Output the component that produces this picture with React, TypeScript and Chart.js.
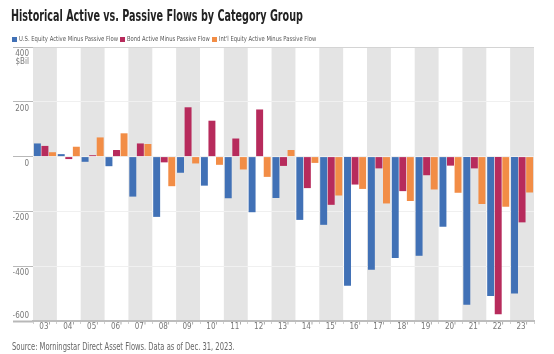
import React, { useEffect, useLayoutEffect, useRef, useState } from 'react';
import { Chart, registerables } from 'chart.js';

Chart.register(...registerables);

const titleText = 'Historical Active vs. Passive Flows by Category Group';
const sourceText = 'Source: Morningstar Direct Asset Flows. Data as of Dec. 31, 2023.';
const unitLabel = '$Bil';

const years = ["03'", "04'", "05'", "06'", "07'", "08'", "09'", "10'", "11'", "12'", "13'", "14'", "15'", "16'", "17'", "18'", "19'", "20'", "21'", "22'", "23'"];
const usEquity = [48, 9, -19, -35, -146, -220, -59, -106, -152, -203, -151, -231, -249, -471, -413, -370, -362, -256, -541, -509, -500];
const bond = [39, -9, 5, 24, 48, -21, 180, 131, 66, 172, -34, -115, -176, -102, -43, -126, -68, -33, -43, -575, -240];
const intl = [16, 36, 70, 85, 46, -108, -25, -30, -47, -74, 24, -23, -142, -118, -171, -162, -120, -132, -173, -183, -131];

const seriesNames = ['U.S. Equity Active Minus Passive Flow', 'Bond Active Minus Passive Flow', "Int'l Equity Active Minus Passive Flow"];
const seriesColors = ['#4171b6', '#b72b5c', '#f28d46'];
const yMin = -600;
const yMax = 400;
const yStep = 200;

const NARROW = '"Liberation Sans Narrow", "DejaVu Sans Condensed", Roboto, sans-serif';

function FitText({ text, width, style }: { text: string; width: number; style?: React.CSSProperties }) {
  const ref = useRef<HTMLSpanElement>(null);
  const [scale, setScale] = useState(1);
  useLayoutEffect(() => {
    const measure = () => {
      if (ref.current) {
        const w = ref.current.offsetWidth;
        if (w > 0) setScale(width / w);
      }
    };
    measure();
    if ((document as any).fonts && (document as any).fonts.ready) {
      (document as any).fonts.ready.then(measure);
    }
  }, [text, width]);
  return (
    <span style={{ display: 'inline-block', width, whiteSpace: 'nowrap', verticalAlign: 'top', ...style }}>
      <span ref={ref} style={{ display: 'inline-block', transform: `scaleX(${scale})`, transformOrigin: '0 0' }}>{text}</span>
    </span>
  );
}

const bandPlugin = {
  id: 'bands',
  beforeDraw(chart: any) {
    const { ctx, chartArea, scales } = chart;
    const x = scales.x;
    const w = (chartArea.right - chartArea.left) / years.length;
    ctx.save();
    ctx.fillStyle = '#e4e4e4';
    years.forEach((_, i) => {
      if (i % 2 === 0) {
        const c = x.getPixelForValue(i);
        ctx.fillRect(c - w / 2, chartArea.top, w, chartArea.bottom - chartArea.top);
      }
    });
    ctx.restore();
  },
};

function yLabel(v: number): string | string[] {
  const s = v < 0 ? '\u2212' + Math.abs(v) : String(v);
  if (v === yMax) return ['', s, unitLabel];
  if (v === yMin) return [s, '', '', ''];
  return s;
}

export default function App() {
  const canvasRef = useRef<HTMLCanvasElement>(null);
  useEffect(() => {
    if (!canvasRef.current) return;
    const chart = new Chart(canvasRef.current, {
      type: 'bar',
      data: {
        labels: years,
        datasets: [
          { label: seriesNames[0], data: usEquity, backgroundColor: seriesColors[0] },
          { label: seriesNames[1], data: bond, backgroundColor: seriesColors[1] },
          { label: seriesNames[2], data: intl, backgroundColor: seriesColors[2] },
        ],
      },
      options: {
        responsive: false,
        animation: false,
        events: [],
        datasets: { bar: { categoryPercentage: 0.95, barPercentage: 0.92, borderWidth: 0 } },
        layout: { padding: { left: 13, right: 20, top: 47, bottom: 18 } },
        plugins: { legend: { display: false }, title: { display: false }, tooltip: { enabled: false } },
        scales: {
          x: {
            afterFit: (s: any) => { s.height = 15; },
            grid: { display: true, drawOnChartArea: false, drawTicks: true, tickLength: 3, tickColor: '#cfcfcf', offset: true },
            border: { display: true, color: '#bdbdbd', width: 2 },
            ticks: { color: '#777', font: { family: NARROW, size: 8 }, padding: -2, maxRotation: 0, autoSkip: false },
          },
          y: {
            min: yMin,
            max: yMax,
            afterFit: (s: any) => { s.width = 20; },
            border: { display: false },
            grid: {
              color: (c: any) => (c.tick && c.tick.value === yMax ? '#d4d4d4' : '#f0f0f0'),
              tickColor: '#b8b8b8',
              tickWidth: (c: any) => (c.tick && c.tick.value === yMin ? 2 : 1),
              tickLength: 20,
              drawTicks: true,
            },
            ticks: {
              stepSize: yStep,
              color: '#777',
              font: { family: NARROW, size: 8, lineHeight: 1 },
              padding: -16,
              labelOffset: 7,
              callback: (v: any) => yLabel(Number(v)),
            },
          },
        },
      },
      plugins: [bandPlugin],
    });
    return () => chart.destroy();
  }, []);

  return (
    <div style={{ position: 'fixed', left: 0, top: 0, width: 554, height: 354, background: '#fff', overflow: 'hidden', fontFamily: NARROW }}>
      <canvas ref={canvasRef} width={554} height={354} style={{ position: 'absolute', left: 0, top: 0 }} />
      <div style={{ position: 'absolute', left: 11, top: 8, fontSize: 16, lineHeight: '16px', fontWeight: 'bold', color: '#222' }}>
        <FitText text={titleText} width={292} />
      </div>
      <div style={{ position: 'absolute', left: 12, top: 35, fontSize: 7, lineHeight: '8px', color: '#555', display: 'flex', alignItems: 'center' }}>
        {seriesNames.map((n, i) => (
          <span key={n} style={{ display: 'flex', alignItems: 'center', marginRight: 2 }}>
            <span style={{ display: 'inline-block', width: 5, height: 5, background: seriesColors[i], marginRight: 2 }} />
            <FitText text={n} width={[99, 83, 97][i]} />
          </span>
        ))}
      </div>
      <div style={{ position: 'absolute', left: 12, top: 342, fontSize: 10, lineHeight: '10px', color: '#666' }}>
        <FitText text={sourceText} width={223} />
      </div>
    </div>
  );
}
